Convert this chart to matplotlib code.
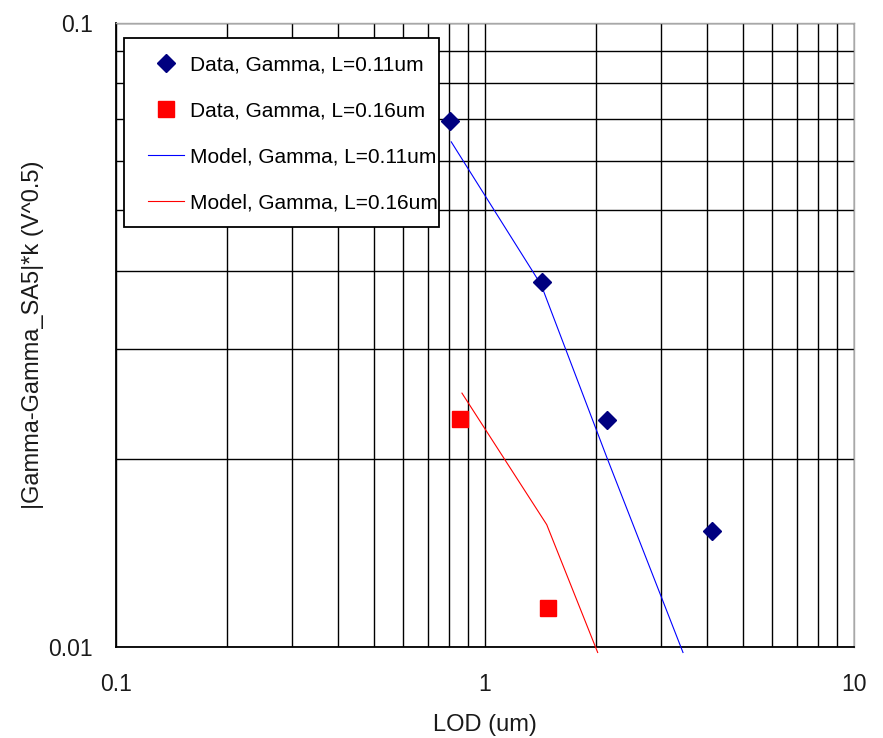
import matplotlib
matplotlib.use("Agg")
import matplotlib.pyplot as plt
from matplotlib.patches import Rectangle
from matplotlib.ticker import FixedLocator, NullFormatter


# measured gamma vs LOD for the two gate lengths
lod_011 = [0.804, 1.427, 2.14, 4.12]
gamma_011 = [0.0696, 0.0384, 0.0231, 0.01534]
lod_016 = [0.855, 1.48]
gamma_016 = [0.0232, 0.01155]

# model curves
model_lod_011 = [0.81, 1.42, 2.14, 3.44]
model_gamma_011 = [0.0644, 0.0380, 0.0201, 0.0098]
model_lod_016 = [0.866, 1.47, 2.02]
model_gamma_016 = [0.0255, 0.0157, 0.0098]

x_ticks = [0.1, 1, 10]
x_tick_labels = ["0.1", "1", "10"]
y_ticks = [0.01, 0.1]
y_tick_labels = ["0.01", "0.1"]

plt.rcParams["font.family"] = ["Liberation Sans", "DejaVu Sans"]

W, H = 883, 738
AX_L, AX_R, AX_T, AX_B = 116, 854, 22.5, 647
fig = plt.figure(figsize=(W / 100, H / 100), dpi=100)
ax = fig.add_axes([AX_L / W, 1 - AX_B / H, (AX_R - AX_L) / W, (AX_B - AX_T) / H])


def px_to_axes(x, y):
    return (x - AX_L) / (AX_R - AX_L), (AX_B - y) / (AX_B - AX_T)


ax.set_xscale("log")
ax.set_yscale("log")
ax.set_xlim(0.1, 10)
ax.set_ylim(0.01, 0.1)

ax.plot(lod_011, gamma_011, linestyle="none", marker="D", markersize=8.8,
        color="#000080", label="Data, Gamma, L=0.11um", zorder=4)
ax.plot(lod_016, gamma_016, linestyle="none", marker="s", markersize=11.3,
        color="#FF0000", label="Data, Gamma, L=0.16um", zorder=4)
ax.plot(model_lod_011, model_gamma_011, color="#0000FF", linewidth=0.8,
        label="Model, Gamma, L=0.11um", clip_on=False, zorder=3)
ax.plot(model_lod_016, model_gamma_016, color="#FF0000", linewidth=0.8,
        label="Model, Gamma, L=0.16um", clip_on=False, zorder=3)

# grid on every decade subdivision
ax.xaxis.set_major_locator(FixedLocator(x_ticks))
ax.xaxis.set_minor_locator(FixedLocator([m * d for d in (0.1, 1) for m in range(2, 10)]))
ax.yaxis.set_major_locator(FixedLocator(y_ticks))
ax.yaxis.set_minor_locator(FixedLocator([m * 0.01 for m in range(2, 10)]))
ax.set_xticklabels(x_tick_labels)
ax.set_yticklabels(y_tick_labels)
ax.xaxis.set_minor_formatter(NullFormatter())
ax.yaxis.set_minor_formatter(NullFormatter())
ax.grid(True, which="both", color="black", linewidth=1.0)
ax.set_axisbelow(True)

ax.tick_params(which="both", length=0)
ax.tick_params(axis="x", pad=19, labelsize=16.5, colors="#1a1a1a")
ax.tick_params(axis="y", pad=16.5, labelsize=16.5, colors="#1a1a1a")

for side in ("left", "bottom"):
    ax.spines[side].set_color("black")
    ax.spines[side].set_linewidth(1.3)
for side in ("top", "right"):
    ax.spines[side].set_color("#a8a8a8")
    ax.spines[side].set_linewidth(1.0)

ax.set_xlabel("LOD (um)", fontsize=17, labelpad=13, color="#1a1a1a")
ax.set_ylabel("|Gamma-Gamma_SA5|*k (V^0.5)", fontsize=17, labelpad=3, color="#1a1a1a")

# legend box drawn as its own rectangle so the entries can sit off-centre
x0, y0 = px_to_axes(124, 227)
x1, y1 = px_to_axes(439, 38)
ax.add_patch(Rectangle((x0, y0), x1 - x0, y1 - y0, transform=ax.transAxes,
                       facecolor="white", edgecolor="black", linewidth=1.3,
                       zorder=5, clip_on=False))
leg = ax.legend(loc="upper left", bbox_to_anchor=px_to_axes(148, 55.5),
                borderaxespad=0, borderpad=0, fontsize=15, frameon=False,
                handlelength=1.73, handletextpad=0.29, labelspacing=1.3)
leg.set_zorder(6)

fig.savefig("out.png", dpi=100)
plt.close(fig)
